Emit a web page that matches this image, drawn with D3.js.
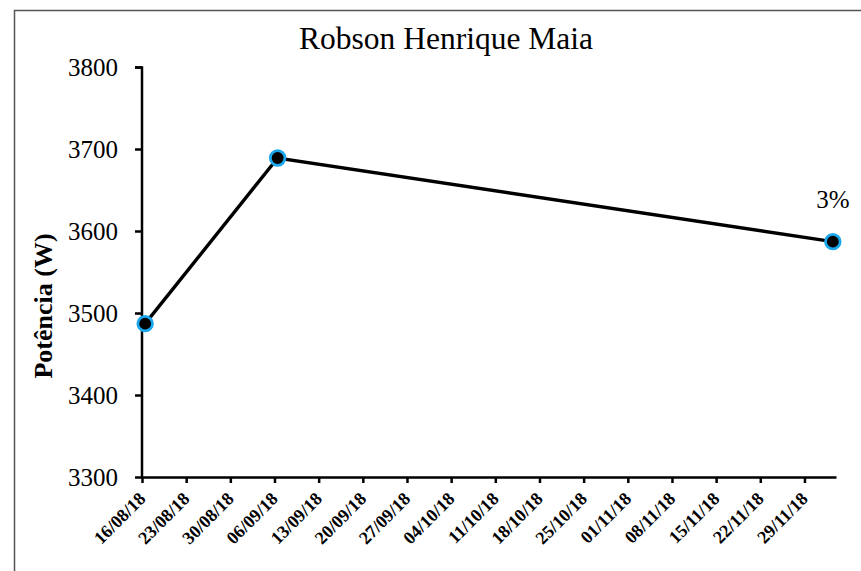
<!DOCTYPE html>
<html><head><meta charset="utf-8">
<script src="https://cdn.jsdelivr.net/npm/d3@7"></script>
<style>
body{margin:0;background:#fff;}
svg{display:block;}
text{font-family:"Liberation Serif","Times New Roman",serif;fill:#000;}
</style></head>
<body>
<svg id="c" width="861" height="571"></svg>
<script>
const title = "Robson Henrique Maia";
const yLabel = "Potência (W)";
const dates = ["2018-08-16", "2018-09-06", "2018-12-03"];
const values = [3487, 3689, 3587];
const pointLabels = ["", "", "3%"];
const yTicks = [3300, 3400, 3500, 3600, 3700, 3800];
const xTickLabels = ["16/08/18","23/08/18","30/08/18","06/09/18","13/09/18","20/09/18","27/09/18","04/10/18","11/10/18","18/10/18","25/10/18","01/11/18","08/11/18","15/11/18","22/11/18","29/11/18"];

const svg = d3.select("#c");
const parse = d3.utcParse("%d/%m/%y");
const iso = d3.utcParse("%Y-%m-%d");
const day = 86400000;

// outer chart border
svg.append("rect").attr("x",14.5).attr("y",10.5).attr("width",880).attr("height",600)
  .attr("fill","none").attr("stroke","#555").attr("stroke-width",1.5);

const x = d3.scaleUtc()
  .domain([parse("16/08/18"), new Date(parse("16/08/18").getTime() + 110*day)])
  .range([142, 836]);
const y = d3.scaleLinear().domain([3300, 3800]).range([477, 67]);

// title
svg.append("text").attr("x",446).attr("y",49).attr("text-anchor","middle")
  .style("font-size","31.5px").text(title);

// y axis
const ya = svg.append("g").attr("transform","translate(142,0)")
  .call(d3.axisLeft(y).tickValues(yTicks).tickSize(7).tickPadding(17).tickFormat(d3.format("d")));
ya.select(".domain").attr("stroke","#000").attr("stroke-width",2.5).attr("d","M-7,67.5H0V477");
ya.selectAll(".tick line").attr("stroke","#000").attr("stroke-width",2.5);
ya.selectAll(".tick text").style("font-size","25px").style("font-family","Liberation Serif").attr("fill","#000");

// x axis
const tickDates = xTickLabels.map(parse);
const xa = svg.append("g").attr("transform","translate(0,477)")
  .call(d3.axisBottom(x).tickValues(tickDates).tickSize(6).tickSizeOuter(0).tickFormat(d3.utcFormat("%d/%m/%y")));
xa.select(".domain").attr("stroke","#000").attr("stroke-width",2.5);
xa.selectAll(".tick line").attr("stroke","#000").attr("stroke-width",2.5);
xa.selectAll(".tick text")
  .style("font-size","18px").style("font-weight","bold").style("font-family","Liberation Serif")
  .attr("fill","#000")
  .attr("text-anchor","end")
  .attr("dy",null).attr("y",0)
  .attr("transform","translate(4,23) rotate(-45)");

// y label
svg.append("text").attr("transform","translate(52,306) rotate(-90)")
  .attr("text-anchor","middle").style("font-size","26px").style("font-weight","bold").text(yLabel);

// data
const pts = dates.map((d,i)=>({t:new Date(iso(d).getTime()+day/2), v:values[i], l:pointLabels[i]}));
const line = d3.line().x(d=>x(d.t)).y(d=>y(d.v));
svg.append("path").datum(pts).attr("d",line).attr("fill","none").attr("stroke","#000").attr("stroke-width",3.4);
svg.selectAll("circle.pt").data(pts).join("circle").attr("class","pt")
  .attr("cx",d=>x(d.t)).attr("cy",d=>y(d.v)).attr("r",7.3)
  .attr("fill","#000").attr("stroke","#1aa7ec").attr("stroke-width",2.8);
svg.selectAll("text.pl").data(pts.filter(d=>d.l)).join("text").attr("class","pl")
  .attr("x",d=>x(d.t)).attr("y",d=>y(d.v)-34).attr("text-anchor","middle")
  .style("font-size","25px").text(d=>d.l);
</script>
</body></html>
